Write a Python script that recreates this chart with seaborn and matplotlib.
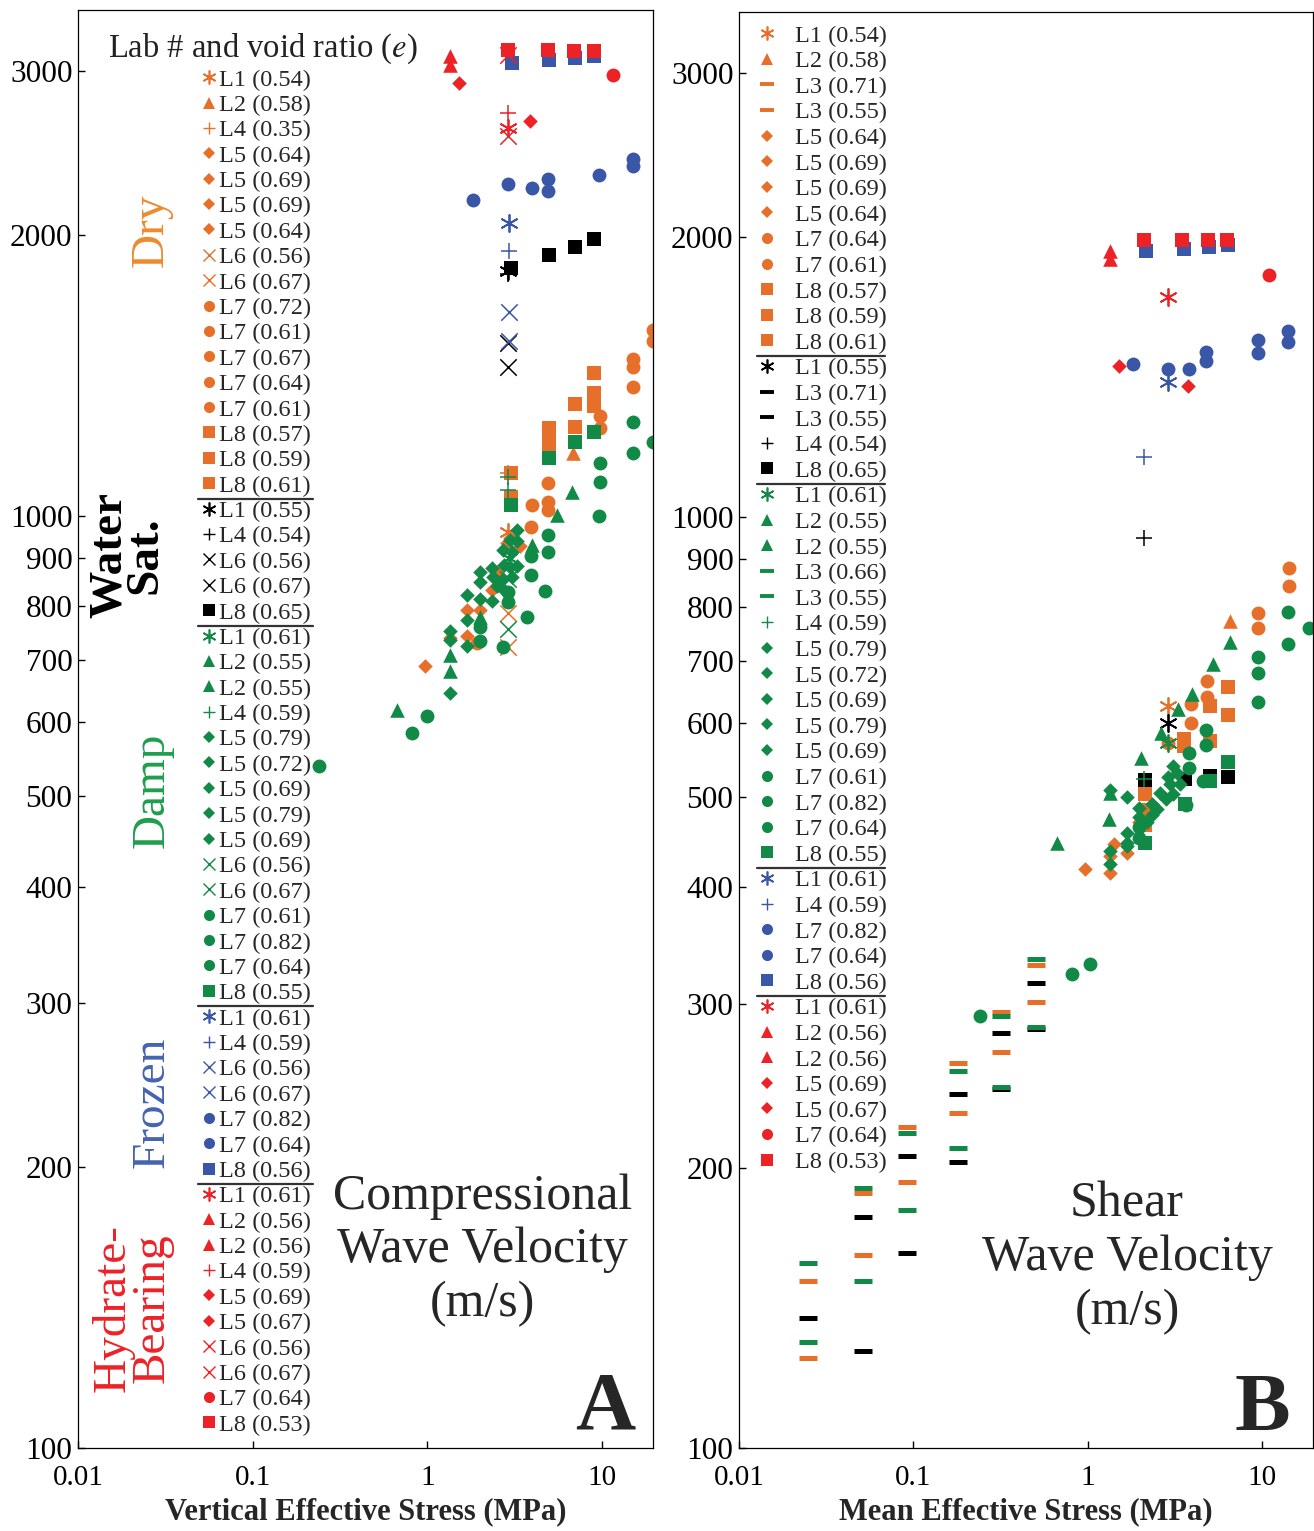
import numpy as np
import pandas as pd
import seaborn as sns
import matplotlib.pyplot as plt
from matplotlib.ticker import NullLocator

sns.set_theme(style="ticks")
plt.rcParams['font.family'] = ['Liberation Serif', 'DejaVu Serif']
plt.rcParams['mathtext.fontset'] = 'stix'
plt.rcParams['axes.edgecolor'] = 'black'

# ---------------- Panel A : compressional wave velocity (m/s) vs vertical effective stress (MPa)
a_dry_lab = ["L1", "L2", "L4"] + ["L5"] * 10 + ["L6"] * 2 + ["L7"] * 13 + ["L8"] * 10
a_dry_x = [2.9, 6.8, 2.9,
           0.97, 1.69, 1.99, 1.69, 2.36, 2.87, 2.99, 3.4, 1.35, 2.5,
           2.9, 2.9,
           19.5, 19.5, 15, 15, 15, 9.8, 9.8, 4.9, 3.96, 4.9, 4.9, 3.9, 1.93,
           9, 9, 7, 9, 7, 5, 5, 5, 3, 3]
a_dry_y = [960, 1166, 1110,
           689, 792, 792, 742, 833, 935, 945, 927, 740, 870,
           787, 723,
           1583, 1538, 1473, 1442, 1375, 1280, 1240, 1085, 1027, 1033, 1015, 973, 730,
           1423, 1355, 1316, 1310, 1246, 1240, 1210, 1180, 1112, 1048]

a_wat_lab = ["L1", "L4", "L6", "L6", "L8", "L8", "L8", "L8"]
a_wat_x = [2.9, 2.9, 2.9, 2.9, 3.0, 5.0, 7.0, 9.0]
a_wat_y = [1828, 1815, 1533, 1442, 1841, 1901, 1940, 1982]

a_damp_lab = ["L1"] + ["L2"] * 7 + ["L4"] * 2 + ["L5"] * 24 + ["L6"] * 2 + ["L7"] * 20 + ["L8"] * 4
a_damp_x = [2.95,
            0.67, 1.35, 1.35, 2.0, 4.0, 5.5, 6.7,
            2.9, 2.9,
            1.35, 1.35, 1.35, 1.69, 1.69, 1.69, 1.99, 1.99, 1.99, 2.36, 2.36, 2.7,
            2.99, 3.25, 3.25, 3.05, 2.75, 2.39, 2.7, 3.05, 3.25, 2.99, 2.5, 2.8,
            2.9, 2.9,
            15, 19.5, 15, 9.7, 9.8, 9.6, 4.9, 4.9, 3.9, 3.9, 4.7, 3.7, 2.9, 2.9,
            2.0, 2.0, 2.7, 1.0, 0.82, 0.24,
            5.0, 7.0, 9.0, 3.0]
a_damp_y = [900,
            619, 682, 709, 779, 929, 1002, 1061,
            1099, 1066,
            646, 736, 752, 725, 773, 821, 869, 848, 813, 809, 879, 919,
            942, 964, 938, 913, 886, 860, 854, 860, 882, 880, 840, 830,
            755, 854,
            1261, 1200, 1168, 1140, 1087, 998, 954, 913, 904, 864, 831, 779, 829, 807,
            760, 734, 723, 610, 585, 539,
            1154, 1198, 1228, 1027]

a_froz_lab = ["L1", "L4", "L6", "L6"] + ["L7"] * 8 + ["L8"] * 4
a_froz_x = [2.95, 2.95, 2.95, 2.95, 1.83, 2.9, 3.95, 4.9, 4.9, 9.6, 15, 15, 3.05, 5.0, 7.0, 9.0]
a_froz_y = [2061, 1923, 1652, 1538, 2178, 2266, 2244, 2294, 2227, 2317, 2410, 2369, 3055, 3080, 3093, 3110]

a_hyd_lab = ["L1", "L2", "L2", "L4", "L5", "L5", "L6", "L6", "L7"] + ["L8"] * 4
a_hyd_x = [2.9, 1.35, 1.35, 2.9, 1.52, 3.85, 2.9, 2.9, 11.6, 2.9, 4.9, 6.9, 9.0]
a_hyd_y = [2606, 3110, 3040, 2704, 2908, 2647, 3120, 2551, 2970, 3155, 3155, 3150, 3150]

# ---------------- Panel B : shear wave velocity (m/s) vs mean effective stress (MPa)
b_dry_lab = ["L1", "L2"] + ["L3"] * 12 + ["L5"] * 7 + ["L7"] * 9 + ["L8"] * 9
b_dry_x = [2.87, 6.56,
           0.0248, 0.0248, 0.0511, 0.0511, 0.0924, 0.0924, 0.181, 0.181, 0.318, 0.318, 0.505, 0.505,
           0.97, 1.34, 1.34, 1.69, 1.42, 1.98, 2.2,
           14.3, 14.3, 9.5, 9.5, 4.85, 4.85, 3.93, 3.93, 2.9,
           6.4, 6.4, 5.0, 5.0, 3.58, 3.58, 2.14, 2.14, 2.14]
b_dry_y = [627, 773,
           151, 125, 188, 161, 221, 193, 259, 229, 294, 266, 330, 301,
           419, 414, 432, 436, 445, 470, 480,
           882, 843, 789, 760, 667, 640, 630, 601, 571,
           657, 613, 627, 575, 578, 567, 504, 484, 467]

b_wat_lab = ["L1"] + ["L3"] * 11 + ["L4"] + ["L8"] * 4
b_wat_x = [2.9, 0.0248, 0.0511, 0.0511, 0.0924, 0.0924, 0.181, 0.181, 0.318, 0.318, 0.505, 0.505,
           2.09, 6.4, 5.0, 3.6, 2.14]
b_wat_y = [600, 138, 177, 127, 206, 162, 240, 203, 279, 243, 316, 282,
           949, 525, 527, 523, 522]

b_damp_lab = ["L1"] + ["L2"] * 9 + ["L3"] * 12 + ["L4"] + ["L5"] * 21 + ["L7"] * 17 + ["L8"] * 4
b_damp_x = [2.9,
            6.56, 5.25, 3.98, 3.31, 2.65, 2.01, 1.32, 0.67, 1.34,
            0.0248, 0.0248, 0.0511, 0.0511, 0.0924, 0.0924, 0.181, 0.181, 0.318, 0.318, 0.505, 0.505,
            2.09,
            1.34, 1.67, 1.98, 1.98, 1.67, 1.67, 2.35, 2.35, 2.61, 2.98, 3.27,
            3.1, 2.8, 3.4, 1.34, 1.34, 1.69, 2.2, 2.5, 2.9, 3.1,
            14.1, 18.6, 14.1, 9.5, 9.5, 9.5, 4.78, 4.78, 3.83, 3.83, 4.6, 3.68,
            1.98, 1.98, 0.241, 0.81, 1.03,
            6.4, 5.0, 3.6, 2.14]
b_damp_y = [571,
            734, 695, 646, 622, 586, 551, 474, 446, 505,
            158, 130, 190, 151, 218, 180, 254, 210, 291, 244, 335, 283,
            523,
            509, 500, 487, 476, 458, 446, 478, 492, 505, 517, 531,
            504, 498, 517, 438, 424, 443, 470, 486, 525, 540,
            791, 760, 731, 708, 680, 632, 591, 569, 558, 537, 521, 491,
            465, 452, 291, 323, 331,
            546, 521, 492, 446]

b_froz_lab = ["L1", "L4"] + ["L7"] * 9 + ["L8"] * 4
b_froz_x = [2.9, 2.09, 1.81, 2.87, 3.83, 4.78, 4.78, 9.5, 9.5, 14.1, 14.1, 2.17, 3.58, 4.98, 6.4]
b_froz_y = [1395, 1160, 1459, 1442, 1442, 1503, 1470, 1548, 1500, 1583, 1540, 1929, 1940, 1950, 1960]

b_hyd_lab = ["L1", "L2", "L2", "L5", "L5", "L7"] + ["L8"] * 4
b_hyd_x = [2.87, 1.34, 1.34, 1.52, 3.78, 10.97, 2.09, 3.49, 4.92, 6.31]
b_hyd_y = [1722, 1930, 1890, 1452, 1382, 1818, 1982, 1982, 1982, 1982]

# ---------------- key entries (lab # and void ratio)
key_a_dry = ["L1 (0.54)", "L2 (0.58)", "L4 (0.35)", "L5 (0.64)", "L5 (0.69)", "L5 (0.69)",
             "L5 (0.64)", "L6 (0.56)", "L6 (0.67)", "L7 (0.72)", "L7 (0.61)", "L7 (0.67)",
             "L7 (0.64)", "L7 (0.61)", "L8 (0.57)", "L8 (0.59)", "L8 (0.61)"]
key_a_wat = ["L1 (0.55)", "L4 (0.54)", "L6 (0.56)", "L6 (0.67)", "L8 (0.65)"]
key_a_damp = ["L1 (0.61)", "L2 (0.55)", "L2 (0.55)", "L4 (0.59)", "L5 (0.79)", "L5 (0.72)",
              "L5 (0.69)", "L5 (0.79)", "L5 (0.69)", "L6 (0.56)", "L6 (0.67)", "L7 (0.61)",
              "L7 (0.82)", "L7 (0.64)", "L8 (0.55)"]
key_a_froz = ["L1 (0.61)", "L4 (0.59)", "L6 (0.56)", "L6 (0.67)", "L7 (0.82)", "L7 (0.64)", "L8 (0.56)"]
key_a_hyd = ["L1 (0.61)", "L2 (0.56)", "L2 (0.56)", "L4 (0.59)", "L5 (0.69)", "L5 (0.67)",
             "L6 (0.56)", "L6 (0.67)", "L7 (0.64)", "L8 (0.53)"]

key_b_dry = ["L1 (0.54)", "L2 (0.58)", "L3 (0.71)", "L3 (0.55)", "L5 (0.64)", "L5 (0.69)",
             "L5 (0.69)", "L5 (0.64)", "L7 (0.64)", "L7 (0.61)", "L8 (0.57)", "L8 (0.59)", "L8 (0.61)"]
key_b_wat = ["L1 (0.55)", "L3 (0.71)", "L3 (0.55)", "L4 (0.54)", "L8 (0.65)"]
key_b_damp = ["L1 (0.61)", "L2 (0.55)", "L2 (0.55)", "L3 (0.66)", "L3 (0.55)", "L4 (0.59)",
              "L5 (0.79)", "L5 (0.72)", "L5 (0.69)", "L5 (0.79)", "L5 (0.69)", "L7 (0.61)",
              "L7 (0.82)", "L7 (0.64)", "L8 (0.55)"]
key_b_froz = ["L1 (0.61)", "L4 (0.59)", "L7 (0.82)", "L7 (0.64)", "L8 (0.56)"]
key_b_hyd = ["L1 (0.61)", "L2 (0.56)", "L2 (0.56)", "L5 (0.69)", "L5 (0.67)", "L7 (0.64)", "L8 (0.53)"]

y_ticks = [100, 200, 300, 400, 500, 600, 700, 800, 900, 1000, 2000, 3000]
x_ticks = [0.01, 0.1, 1, 10]

# ---------------- styles
colors = {"dry": "#E6702A", "wat": "#000000", "damp": "#128A47", "froz": "#3A56A6", "hyd": "#EC2227"}
marker_of = {"L1": (6, 2, 0), "L2": "^", "L3": "_", "L4": "+", "L5": "D", "L6": "x", "L7": "o", "L8": "s"}
size_of = {"L1": 150, "L2": 110, "L3": 150, "L4": 130, "L5": 55, "L6": 140, "L7": 100, "L8": 92}
lw_of = {"L1": 1.3, "L3": 3.6, "L4": 1.1, "L6": 1.1}
key_ms = {"L1": 10, "L2": 9, "L3": 10, "L4": 9, "L5": 6.5, "L6": 9, "L7": 8, "L8": 8}
key_mew = {"L1": 1.2, "L3": 2.8, "L4": 1.0, "L6": 1.0}


def make_frame(state, xs, ys, labs):
    return pd.DataFrame({"stress": xs, "vel": ys, "lab": labs, "state": state})


def draw_points(ax, frames):
    for df in frames:
        state = df["state"].iloc[0]
        for lab, sub in df.groupby("lab", sort=True):
            sns.scatterplot(data=sub, x="stress", y="vel", ax=ax, legend=False,
                            marker=marker_of[lab], s=size_of[lab], color=colors[state],
                            linewidth=lw_of.get(lab, 0))


def draw_key(ax, groups, mx, tx, y0, dy, sx0, sx1):
    row = 0
    for i, (state, entries) in enumerate(groups):
        for text in entries:
            y = y0 - row * dy
            lab = text.split()[0]
            ax.plot([mx], [y + 0.002], transform=ax.transAxes, linestyle="none",
                    marker=marker_of[lab], ms=key_ms[lab], mew=key_mew.get(lab, 0),
                    color=colors[state], clip_on=False)
            ax.text(tx, y, text, transform=ax.transAxes, fontsize=17.5, va="center", ha="left")
            row += 1
        if i < len(groups) - 1:
            ys = y0 - (row - 0.5) * dy
            ax.plot([sx0, sx1], [ys, ys], transform=ax.transAxes, color="#333333", lw=1.6)


def style_axis(ax, xlabel):
    ax.set_xscale("log")
    ax.set_yscale("log")
    ax.set_xlim(0.01, 19.6)
    ax.set_ylim(100, 3485)
    ax.set_yticks(y_ticks)
    ax.set_yticklabels([str(v) for v in y_ticks])
    ax.set_xticks(x_ticks)
    ax.set_xticklabels(["0.01", "0.1", "1", "10"])
    ax.xaxis.set_minor_locator(NullLocator())
    ax.yaxis.set_minor_locator(NullLocator())
    ax.tick_params(direction="in", length=5, width=1, colors="black")
    ax.tick_params(axis="x", pad=12, labelsize=21)
    ax.tick_params(axis="y", pad=4, labelsize=22.5)
    ax.set_xlabel(xlabel, fontsize=22, fontweight="bold", labelpad=5)
    ax.set_ylabel("")
    for sp in ax.spines.values():
        sp.set_visible(True)
        sp.set_linewidth(0.9)
        sp.set_color("black")


fig = plt.figure(figsize=(13.14, 15.31), dpi=100)
axA = fig.add_axes([0.05936, 0.05421, 0.43760, 0.93926])
axB = fig.add_axes([0.56240, 0.05421, 0.43684, 0.93795])

frames_a = [make_frame("dry", a_dry_x, a_dry_y, a_dry_lab),
            make_frame("wat", a_wat_x, a_wat_y, a_wat_lab),
            make_frame("damp", a_damp_x, a_damp_y, a_damp_lab),
            make_frame("froz", a_froz_x, a_froz_y, a_froz_lab),
            make_frame("hyd", a_hyd_x, a_hyd_y, a_hyd_lab)]
frames_b = [make_frame("dry", b_dry_x, b_dry_y, b_dry_lab),
            make_frame("wat", b_wat_x, b_wat_y, b_wat_lab),
            make_frame("damp", b_damp_x, b_damp_y, b_damp_lab),
            make_frame("froz", b_froz_x, b_froz_y, b_froz_lab),
            make_frame("hyd", b_hyd_x, b_hyd_y, b_hyd_lab)]

draw_points(axA, frames_a)
draw_points(axB, frames_b)

style_axis(axA, "Vertical Effective Stress (MPa)")
style_axis(axB, "Mean Effective Stress (MPa)")

draw_key(axA, [("dry", key_a_dry), ("wat", key_a_wat), ("damp", key_a_damp),
               ("froz", key_a_froz), ("hyd", key_a_hyd)],
         mx=0.2278, tx=0.2452, y0=0.9513, dy=0.01765, sx0=0.2087, sx1=0.4087)
draw_key(axB, [("dry", key_b_dry), ("wat", key_b_wat), ("damp", key_b_damp),
               ("froz", key_b_froz), ("hyd", key_b_hyd)],
         mx=0.0488, tx=0.0976, y0=0.9833, dy=0.01783, sx0=0.0314, sx1=0.2544)

axA.text(0.052, 0.9733, "Lab # and void ratio ($e$)", transform=axA.transAxes,
         fontsize=23.5, ha="left", va="center", color="#222222")

# state labels along the key
axA.text(0.127, 0.847, "Dry", transform=axA.transAxes, rotation=90, fontsize=34,
         color="#EE8A2E", ha="center", va="center")
axA.text(0.087, 0.621, "Water\nSat.", transform=axA.transAxes, rotation=90, fontsize=34,
         fontweight="bold", color="black", ha="center", va="center",
         multialignment="center", linespacing=0.8)
axA.text(0.129, 0.4576, "Damp", transform=axA.transAxes, rotation=90, fontsize=34,
         color="#1E9E4E", ha="center", va="center")
axA.text(0.129, 0.2406, "Frozen", transform=axA.transAxes, rotation=90, fontsize=34,
         color="#4464AE", ha="center", va="center")
axA.text(0.0957, 0.0974, "Hydrate-\nBearing", transform=axA.transAxes, rotation=90, fontsize=34,
         color="#EC2227", ha="center", va="center", multialignment="center", linespacing=0.9)

axA.text(0.704, 0.1377, "Compressional\nWave Velocity\n(m/s)", transform=axA.transAxes,
         fontsize=36, ha="center", va="center", linespacing=1.2)
axA.text(0.9687, 0.0139, "A", transform=axA.transAxes, fontsize=60, fontweight="bold",
         ha="right", va="baseline")
axB.text(0.676, 0.1323, "Shear\nWave Velocity\n(m/s)", transform=axB.transAxes,
         fontsize=36, ha="center", va="center", linespacing=1.2)
axB.text(0.96, 0.0125, "B", transform=axB.transAxes, fontsize=60, fontweight="bold",
         ha="right", va="baseline")

fig.savefig("out.png", dpi=100)
